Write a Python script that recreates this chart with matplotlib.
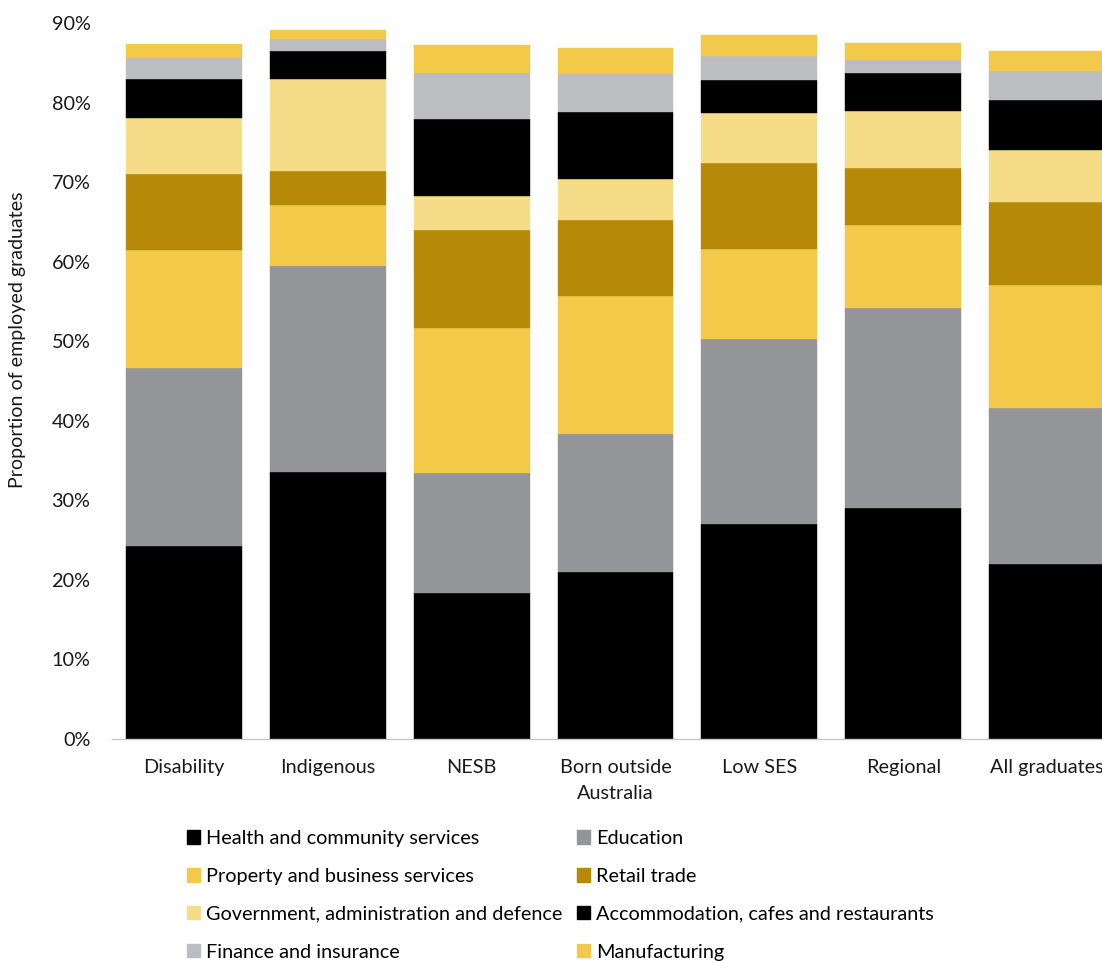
import matplotlib
matplotlib.use("Agg")
import matplotlib.pyplot as plt
import numpy as np
from matplotlib.ticker import PercentFormatter
from matplotlib.patches import Patch

plt.rcParams['font.family'] = ['Lato', 'DejaVu Sans']

groups = ["Disability", "Indigenous", "NESB", "Born outside\nAustralia",
          "Low SES", "Regional", "All graduates"]

health = [24.3, 33.6, 18.35, 21.05, 27.0, 29.05, 21.95]
education = [22.3, 25.9, 15.05, 17.25, 23.25, 25.1, 19.65]
property_bus = [14.9, 7.6, 18.3, 17.4, 11.35, 10.45, 15.5]
retail = [9.5, 4.3, 12.3, 9.6, 10.75, 7.2, 10.35]
government = [7.0, 11.6, 4.2, 5.1, 6.3, 7.1, 6.6]
accommodation = [4.9, 3.5, 9.7, 8.4, 4.2, 4.8, 6.25]
finance = [2.7, 1.5, 5.8, 4.8, 3.05, 1.65, 3.7]
manufacturing = [1.8, 1.1, 3.5, 3.25, 2.6, 2.1, 2.5]

series = [
    ("Health and community services", health, "#000000"),
    ("Education", education, "#939598"),
    ("Property and business services", property_bus, "#F3C94A"),
    ("Retail trade", retail, "#B68A08"),
    ("Government, administration and defence", government, "#F7DC87"),
    ("Accommodation, cafes and restaurants", accommodation, "#000000"),
    ("Finance and insurance", finance, "#BCBDC0"),
    ("Manufacturing", manufacturing, "#F3C94A"),
]

FS = 14.3

fig = plt.figure(figsize=(11.02, 9.61), dpi=100)
ax = fig.add_axes([112/1102, 1-739/961, (1119-112)/1102, (739-23)/961])

x = np.arange(len(groups))
bottom = np.zeros(len(groups))
handles = []
for name, vals, col in series:
    v = np.array(vals) / 100.0
    ax.bar(x, v, bottom=bottom, width=0.806, color=col, edgecolor=col, linewidth=0.3)
    bottom += v
    handles.append(Patch(facecolor=col, edgecolor=col, label=name))

ax.set_xlim(-0.5, len(groups) - 0.5)
ax.set_ylim(0, 0.9)
ax.set_yticks(np.arange(0, 0.91, 0.1))
ax.yaxis.set_major_formatter(PercentFormatter(1.0, decimals=0))
ax.set_xticks(x)
ax.set_xticklabels(groups, fontsize=FS, color="#1a1a1a", linespacing=1.6)
ax.tick_params(axis='y', length=0, labelsize=FS, labelcolor="#1a1a1a", pad=15.5)
ax.tick_params(axis='x', length=0, pad=14.5)
for s in ["top", "right", "left"]:
    ax.spines[s].set_visible(False)
ax.spines["bottom"].set_color("#c8c8c8")
ax.spines["bottom"].set_linewidth(1.0)

ax.set_ylabel("Proportion of employed graduates", fontsize=14.1, color="#1a1a1a")
ax.yaxis.set_label_coords(-0.0854, 0.557)

order = [0, 2, 4, 6, 1, 3, 5, 7]
leg = fig.legend([handles[i] for i in order], [handles[i].get_label() for i in order],
                 ncol=2, loc="upper left", bbox_to_anchor=(187/1102, 1-830/961),
                 frameon=False, fontsize=FS, handlelength=0.65, handleheight=0.65,
                 handletextpad=0.3, columnspacing=0.75, labelspacing=1.05,
                 borderaxespad=0, borderpad=0)

fig.savefig("out.png", dpi=100)
